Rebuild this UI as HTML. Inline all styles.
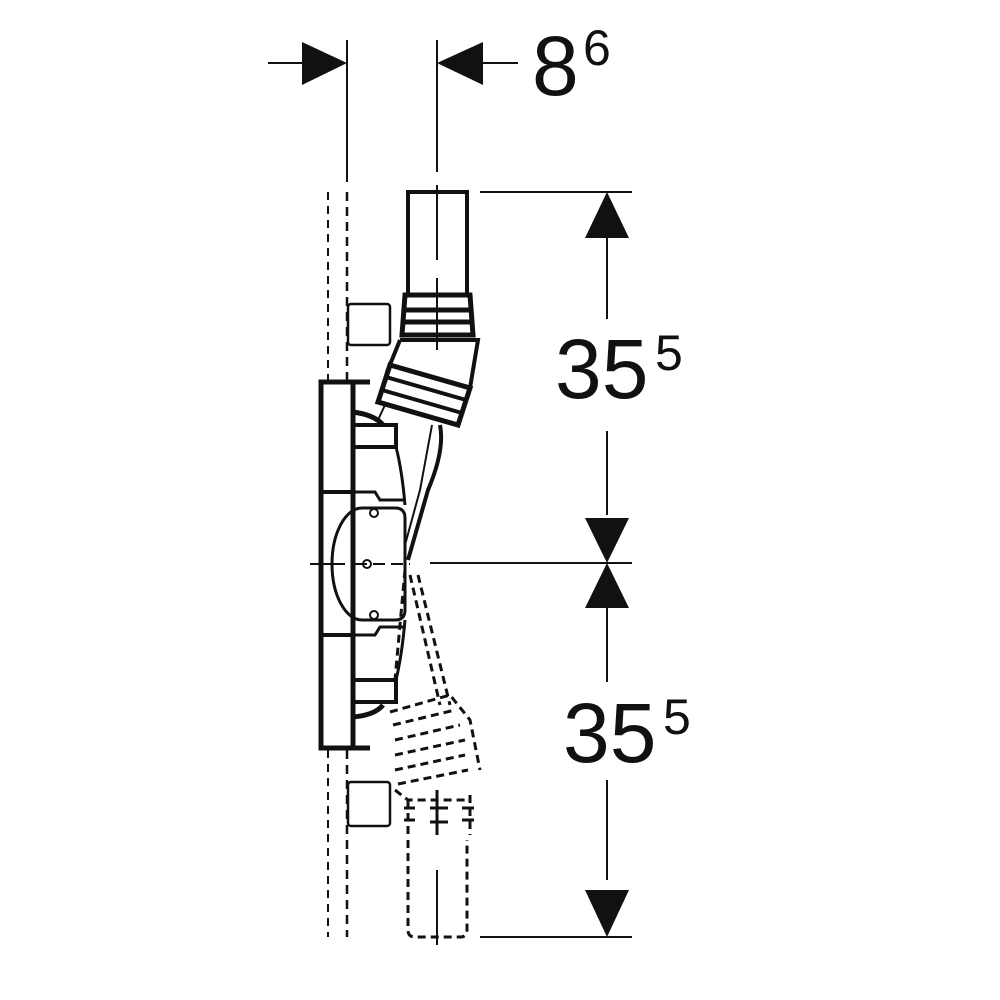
<!DOCTYPE html>
<html><head><meta charset="utf-8"><style>html,body{margin:0;padding:0;background:#fff}svg{display:block}</style></head>
<body>
<svg width="1000" height="1000" viewBox="0 0 1000 1000" xmlns="http://www.w3.org/2000/svg">
<g stroke="#111" fill="none" stroke-linecap="butt">
<!-- top dimension -->
<line x1="347" y1="40" x2="347" y2="182" stroke-width="2"/>
<line x1="437" y1="40" x2="437" y2="172" stroke-width="2"/>
<line x1="268" y1="63" x2="305" y2="63" stroke-width="2"/>
<polygon points="302,42 347,63 302,85" fill="#111" stroke="none"/>
<line x1="480" y1="63" x2="518" y2="63" stroke-width="2"/>
<polygon points="483,42 437,63 483,85" fill="#111" stroke="none"/>
<!-- wall dashed lines -->
<line x1="328" y1="192" x2="328" y2="380" stroke-width="2" stroke-dasharray="8,6"/>
<line x1="347" y1="192" x2="347" y2="380" stroke-width="2.5" stroke-dasharray="9,6"/>
<line x1="328" y1="750" x2="328" y2="937" stroke-width="2" stroke-dasharray="8,6"/>
<line x1="347" y1="750" x2="347" y2="937" stroke-width="2.5" stroke-dasharray="9,6"/>
<!-- right dimension -->
<line x1="480" y1="192" x2="632" y2="192" stroke-width="2"/>
<line x1="430" y1="563" x2="632" y2="563" stroke-width="2"/>
<line x1="480" y1="937" x2="632" y2="937" stroke-width="2"/>
<line x1="607" y1="236" x2="607" y2="319" stroke-width="2"/>
<line x1="607" y1="431" x2="607" y2="515" stroke-width="2"/>
<line x1="607" y1="605" x2="607" y2="682" stroke-width="2"/>
<line x1="607" y1="780" x2="607" y2="880" stroke-width="2"/>
<polygon points="607,192 585,238 629,238" fill="#111" stroke="none"/>
<polygon points="607,563 585,518 629,518" fill="#111" stroke="none"/>
<polygon points="607,563 585,608 629,608" fill="#111" stroke="none"/>
<polygon points="607,937 585,890 629,890" fill="#111" stroke="none"/>
<!-- top pipe -->
<rect x="408" y="192" width="59" height="103" stroke-width="4"/>
<line x1="437" y1="185" x2="437" y2="260" stroke-width="2"/>
<line x1="437" y1="278" x2="437" y2="350" stroke-width="2"/>
<!-- coupler -->
<path d="M405,295 L470,295 L473,335 L402,335 Z" stroke-width="5"/>
<line x1="404" y1="310" x2="471" y2="310" stroke-width="5"/>
<line x1="403" y1="322" x2="472" y2="322" stroke-width="5"/>
<!-- elbow -->
<path d="M400,340 L478,340 L470,388 M400,340 L387,372" stroke-width="4"/>
<path d="M390,365 L470,388 L458,425 L378,402 Z" stroke-width="5"/>
<line x1="386" y1="377" x2="466" y2="400" stroke-width="4"/>
<line x1="382" y1="390" x2="462" y2="413" stroke-width="4"/>
<!-- tubes down -->
<path d="M440,425 Q445,450 428,490 L408,560" stroke-width="4"/>
<path d="M385,405 L378,420 M432,425 L420,490 L405,545" stroke-width="2"/>
<!-- squares -->
<rect x="348" y="304" width="42" height="41" rx="3" stroke-width="2.5"/>
<rect x="348" y="782" width="42" height="44" rx="3" stroke-width="2.5"/>
<!-- plate -->
<rect x="321" y="382" width="32" height="366" stroke-width="5"/>
<line x1="321" y1="492" x2="353" y2="492" stroke-width="4"/>
<line x1="321" y1="635" x2="353" y2="635" stroke-width="4"/>
<line x1="353" y1="382" x2="370" y2="382" stroke-width="5"/>
<line x1="353" y1="748" x2="370" y2="748" stroke-width="5"/>
<!-- housing -->
<rect x="353" y="425" width="43" height="22" stroke-width="4"/>
<rect x="353" y="680" width="43" height="22" stroke-width="4"/>
<path d="M353,412 Q375,415 383,425" stroke-width="5"/>
<path d="M353,717 Q375,715 383,705" stroke-width="5"/>
<path d="M396,447 Q402,470 405,505" stroke-width="3"/>
<path d="M396,680 Q402,655 405,620" stroke-width="3"/>
<path d="M353,492 L375,492 L380,500 L405,500" stroke-width="3"/>
<path d="M353,635 L375,635 L380,627 L405,627" stroke-width="3"/>
<!-- D shape -->
<path d="M395,508 L362,508 A30,56 0 0 0 362,620 L395,620 Q405,620 405,610 L405,518 Q405,508 395,508 Z" stroke-width="3"/>
<line x1="352" y1="508" x2="352" y2="620" stroke-width="2"/>
<circle cx="374" cy="513" r="4" stroke-width="2"/>
<circle cx="374" cy="615" r="4" stroke-width="2"/>
<circle cx="367" cy="564" r="4" stroke-width="2"/>
<line x1="310" y1="564" x2="345" y2="564" stroke-width="2"/>
<line x1="355" y1="564" x2="410" y2="564" stroke-width="2" stroke-dasharray="12,6"/>
<!-- dashed lower elbow -->
<g stroke-dasharray="8,5" stroke-width="3">
<path d="M410,575 L440,705"/>
<path d="M418,575 L450,705"/>
<path d="M405,570 L395,680"/>
<path d="M390,712 L450,695 L470,720 L480,770"/>
<path d="M393,725 L455,710"/>
<path d="M395,740 L460,725"/>
<path d="M395,755 L465,740"/>
<path d="M395,770 L465,755"/>
<path d="M398,784 L468,770"/>
<path d="M395,790 L408,800 L470,800"/>
<path d="M408,800 L408,835"/>
<path d="M470,795 L470,835"/>
<path d="M408,840 L408,930 Q408,937 415,937 L460,937 Q467,937 467,930 L467,840"/>
</g>
<line x1="437" y1="790" x2="437" y2="835" stroke-width="3"/>
<line x1="437" y1="870" x2="437" y2="945" stroke-width="2"/>
<path d="M404,808 L415,808 M404,820 L415,820 M430,808 L448,808 M430,822 L448,822 M462,808 L474,808 M462,820 L474,820" stroke-width="3"/>
</g>
<g font-family="'Liberation Sans', sans-serif" fill="#111">
<text x="532" y="95" font-size="84">8</text>
<text x="583" y="65" font-size="50">6</text>
<text x="555" y="398" font-size="84">35</text>
<text x="655" y="370" font-size="50">5</text>
<text x="563" y="762" font-size="84">35</text>
<text x="663" y="734" font-size="50">5</text>
</g>
</svg>
</body></html>
